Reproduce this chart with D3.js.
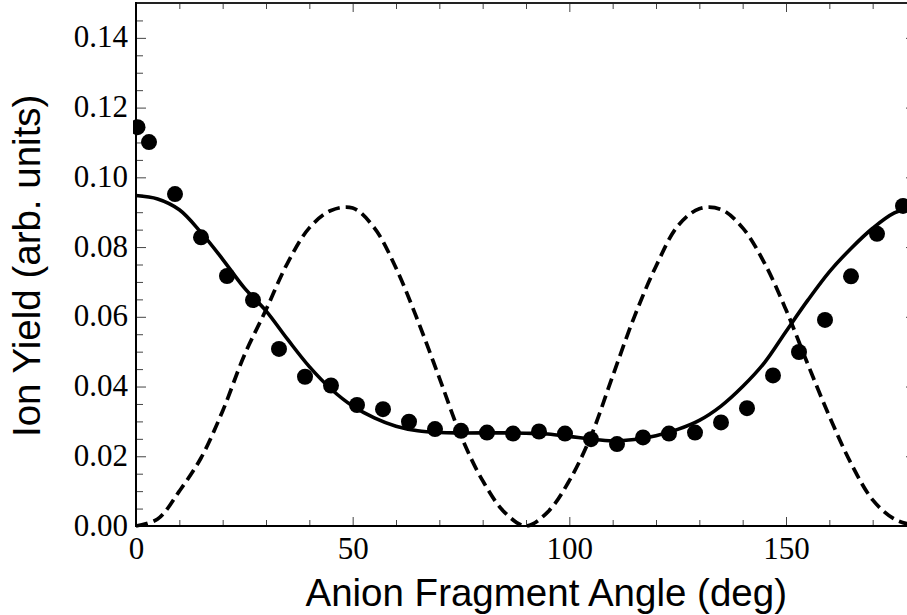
<!DOCTYPE html>
<html>
<head>
<meta charset="utf-8">
<script src="https://cdn.jsdelivr.net/npm/d3@7"></script>
<style>
  body { margin: 0; background: #fff; }
  svg { display: block; }
</style>
</head>
<body>
<div id="chart"></div>
<script>
// measured points (angle in deg, yield)
var dotAngles = [0, 3, 9, 15, 21, 27, 33, 39, 45, 51, 57, 63, 69, 75, 81, 87, 93, 99,
                 105, 111, 117, 123, 129, 135, 141, 147, 153, 159, 165, 171, 177];
var dotValues = [0.1144, 0.1101, 0.0952, 0.0828, 0.0717, 0.0648, 0.0508, 0.0428, 0.0403,
                 0.0347, 0.0335, 0.0299, 0.0278, 0.0273, 0.0268, 0.0265, 0.0271, 0.0265,
                 0.0249, 0.0235, 0.0254, 0.0265, 0.0268, 0.0297, 0.0338, 0.0432, 0.0499,
                 0.0591, 0.0716, 0.0838, 0.0918];

// fit curve (solid)
var fitAngles = [0, 5, 10, 15, 20, 25, 30, 35, 40, 45, 50, 55, 60, 65, 70, 75, 80, 85, 90,
                 95, 100, 105, 110, 115, 120, 125, 130, 135, 140, 145, 150, 155, 160, 165,
                 170, 175, 180];
var fitValues = [0.0948, 0.0938, 0.0907, 0.0842, 0.0765, 0.0683, 0.0617, 0.0535, 0.0457,
                 0.0393, 0.0344, 0.0310, 0.0286, 0.0273, 0.0268, 0.0267, 0.0267, 0.0267,
                 0.0266, 0.0264, 0.0257, 0.0249, 0.0244, 0.0248, 0.0259, 0.0277, 0.0303,
                 0.0344, 0.0400, 0.0468, 0.0558, 0.0647, 0.0729, 0.0796, 0.0854, 0.0898,
                 0.0918];

// model curve (dashed)
var modelAngles = [0, 5, 10, 15, 20, 25, 30, 35, 40, 45, 50, 55, 60, 65, 70, 75, 80, 85, 90,
                   95, 100, 105, 110, 115, 120, 125, 130, 135, 140, 145, 150, 155, 160, 165,
                   170, 175, 180];
var modelValues = [0, 0.0020, 0.0100, 0.0195, 0.0330, 0.0490, 0.0620, 0.0755, 0.0855,
                   0.0905, 0.0912, 0.0855, 0.0740, 0.0590, 0.0425, 0.0258, 0.0130, 0.0040,
                   0, 0.0040, 0.0130, 0.0258, 0.0430, 0.0600, 0.0745, 0.0860, 0.0910,
                   0.0908, 0.0855, 0.0755, 0.0620, 0.0465, 0.0315, 0.0180, 0.0075, 0.0020, 0];

var xMajor = [0, 50, 100, 150];
var yMajor = [0, 0.02, 0.04, 0.06, 0.08, 0.10, 0.12, 0.14];

var chart_width = 907, chart_height = 615;
var plotLeft = 136, plotRight = 916, plotTop = 3, plotBottom = 526;

var svg = d3.select('#chart')
    .append('svg')
    .attr('width', chart_width)
    .attr('height', chart_height);

var x = d3.scaleLinear().domain([0, 180]).range([plotLeft, plotRight]);
var y = d3.scaleLinear().domain([0, 0.15]).range([plotBottom, plotTop]);

var xMinor = d3.range(0, 181, 10).filter(function(d){ return xMajor.indexOf(d) < 0; });
var yMinor = d3.range(0, 31).map(function(i){ return i * 0.005; })
    .filter(function(d, i){ return i % 4 !== 0; });

var tickColor = '#444';

function drawAxis(axis, tx, ty, labels){
    var g = svg.append('g')
        .attr('transform', 'translate(' + tx + ',' + ty + ')')
        .call(axis);
    g.select('.domain').remove();
    g.selectAll('.tick line').attr('stroke', tickColor).attr('stroke-width', 1);
    if (!labels) g.selectAll('.tick text').remove();
    return g;
}

// bottom
var gb = drawAxis(d3.axisBottom(x).tickValues(xMajor).tickSizeInner(-9).tickSizeOuter(0)
    .tickFormat(d3.format('d')), 0, plotBottom, true);
gb.selectAll('.tick text')
    .attr('y', 33).attr('dy', null)
    .attr('font-family', '"Liberation Serif", "Times New Roman", serif')
    .attr('font-size', 31).attr('fill', '#000');
drawAxis(d3.axisBottom(x).tickValues(xMinor).tickSizeInner(-6).tickSizeOuter(0), 0, plotBottom, false);
// top
drawAxis(d3.axisTop(x).tickValues(xMajor).tickSizeInner(-9).tickSizeOuter(0), 0, plotTop, false);
drawAxis(d3.axisTop(x).tickValues(xMinor).tickSizeInner(-6).tickSizeOuter(0), 0, plotTop, false);

// left
var gl = drawAxis(d3.axisLeft(y).tickValues(yMajor).tickSizeInner(-10).tickSizeOuter(0)
    .tickFormat(d3.format('.2f')), plotLeft, 0, true);
gl.selectAll('.tick text')
    .attr('x', -8).attr('dy', null).attr('y', 9)
    .attr('font-family', '"Liberation Serif", "Times New Roman", serif')
    .attr('font-size', 31).attr('fill', '#000');
drawAxis(d3.axisLeft(y).tickValues(yMinor).tickSizeInner(-7).tickSizeOuter(0), plotLeft, 0, false);
// right
drawAxis(d3.axisRight(y).tickValues(yMajor).tickSizeInner(-10).tickSizeOuter(0), plotRight, 0, false);
drawAxis(d3.axisRight(y).tickValues(yMinor).tickSizeInner(-7).tickSizeOuter(0), plotRight, 0, false);

// frame
svg.append('line').attr('x1', plotLeft).attr('x2', plotRight).attr('y1', plotTop).attr('y2', plotTop)
    .attr('stroke', '#222').attr('stroke-width', 2);
svg.append('line').attr('x1', plotLeft).attr('x2', plotRight).attr('y1', plotBottom).attr('y2', plotBottom)
    .attr('stroke', '#000').attr('stroke-width', 2);
svg.append('line').attr('x1', plotLeft).attr('x2', plotLeft).attr('y1', plotTop - 1).attr('y2', plotBottom + 1)
    .attr('stroke', '#000').attr('stroke-width', 2);
svg.append('line').attr('x1', plotRight).attr('x2', plotRight).attr('y1', plotTop - 1).attr('y2', plotBottom + 1)
    .attr('stroke', '#000').attr('stroke-width', 2);

svg.append('clipPath').attr('id', 'plotclip')
    .append('rect').attr('x', plotLeft - 3).attr('y', plotTop).attr('width', plotRight - plotLeft + 6)
    .attr('height', plotBottom - plotTop + 2);

var plot = svg.append('g').attr('clip-path', 'url(#plotclip)');

var line = d3.line()
    .x(function(d){ return x(d[0]); })
    .y(function(d){ return y(d[1]); })
    .curve(d3.curveCatmullRom);

plot.append('path')
    .datum(d3.zip(modelAngles, modelValues))
    .attr('d', line)
    .attr('fill', 'none')
    .attr('stroke', '#000')
    .attr('stroke-width', 3.7)
    .attr('stroke-dasharray', '12,6');

plot.append('path')
    .datum(d3.zip(fitAngles, fitValues))
    .attr('d', line)
    .attr('fill', 'none')
    .attr('stroke', '#000')
    .attr('stroke-width', 3.6);

plot.selectAll('circle')
    .data(d3.zip(dotAngles, dotValues))
    .enter()
    .append('circle')
    .attr('cx', function(d){ return x(d[0]) + (d[0] === 0 ? 1.5 : 0); })
    .attr('cy', function(d){ return y(d[1]); })
    .attr('r', 8)
    .attr('fill', '#000');

// axis titles
svg.append('text')
    .text('Anion Fragment Angle (deg)')
    .attr('x', 787)
    .attr('y', 606)
    .attr('text-anchor', 'end')
    .attr('font-family', '"Liberation Sans", Arial, sans-serif')
    .attr('font-size', 38.5)
    .attr('fill', '#000');

svg.append('text')
    .text('Ion Yield (arb. units)')
    .attr('transform', 'translate(40,437) rotate(-90)')
    .attr('text-anchor', 'start')
    .attr('font-family', '"Liberation Sans", Arial, sans-serif')
    .attr('font-size', 38.5)
    .attr('fill', '#000');
</script>
</body>
</html>
